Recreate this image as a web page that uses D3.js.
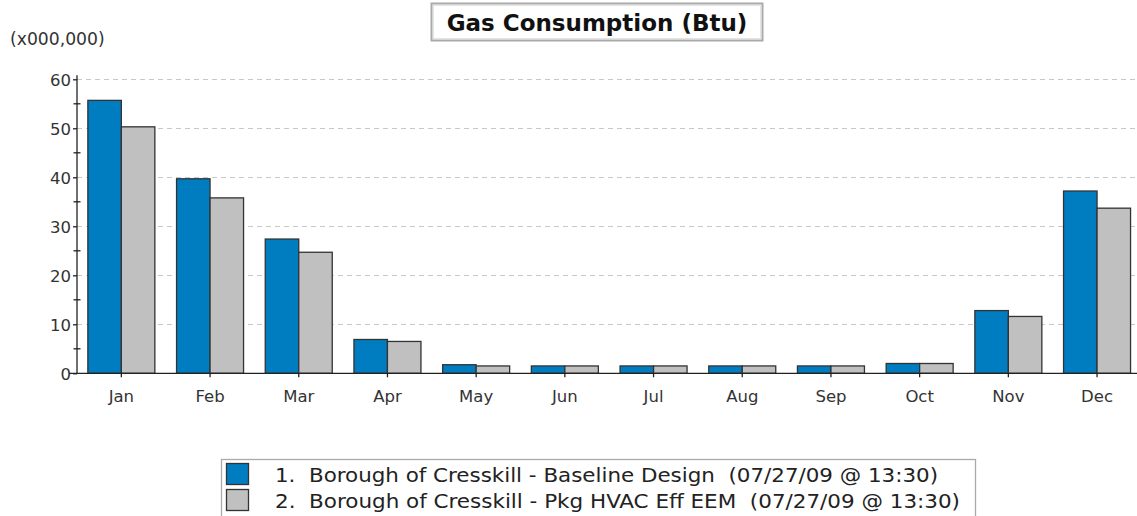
<!DOCTYPE html>
<html><head><meta charset="utf-8">
<script src="https://cdn.jsdelivr.net/npm/d3@7"></script>
<style>body{margin:0;background:#fff;overflow:hidden}svg{display:block}</style>
</head><body>
<svg id="c" width="1137" height="516"></svg>
<script>
const months = ["Jan","Feb","Mar","Apr","May","Jun","Jul","Aug","Sep","Oct","Nov","Dec"];
const baseline = [55.7,39.7,27.4,6.9,1.75,1.5,1.5,1.5,1.5,2.0,12.8,37.2];
const pkgHvac = [50.3,35.8,24.7,6.5,1.5,1.5,1.5,1.5,1.5,2.0,11.6,33.7];
const seriesNames = ["1.  Borough of Cresskill - Baseline Design  (07/27/09 @ 13:30)",
                     "2.  Borough of Cresskill - Pkg HVAC Eff EEM  (07/27/09 @ 13:30)"];
const seriesColors = ["#007dc0","#c0c0c0"];
const yTicks = [0,10,20,30,40,50,60];
const titleText = "Gas Consumption (Btu)";
const unitText = "(x000,000)";

const svg = d3.select("#c");
const font = "Verdana, 'DejaVu Sans', sans-serif";
const x0 = 77, x1 = 77 + 12*88.7, yTop = 79.3, yBot = 373.3;
const x = d3.scaleBand().domain(months).range([x0, x1]).paddingInner(0).paddingOuter(0);
const y = d3.scaleLinear().domain([0,60]).range([yBot, yTop]);
const inner = d3.scaleBand().domain([0,1]).range([x.bandwidth()/2-33.5, x.bandwidth()/2+33.5]);

// gridlines
svg.append("g").selectAll("line").data(yTicks.filter(d=>d>0)).join("line")
  .attr("x1", x0).attr("x2", 1137).attr("y1", d=>Math.round(y(d))+0.5).attr("y2", d=>Math.round(y(d))+0.5)
  .attr("stroke","#c8c8c8").attr("stroke-dasharray","5,4").attr("stroke-width",1);

// bars
const data = [baseline, pkgHvac];
const g = svg.append("g");
months.forEach((m,i)=>{
  data.forEach((s,k)=>{
    g.append("rect")
      .attr("x", x(m)+inner(k)).attr("width", inner.bandwidth())
      .attr("y", y(s[i])).attr("height", yBot - y(s[i]))
      .attr("fill", seriesColors[k]).attr("stroke","#333").attr("stroke-width",1.3);
  });
});

// y axis
const ya = svg.append("g").attr("transform",`translate(${x0},0)`)
  .call(d3.axisLeft(y).tickValues(yTicks).tickSize(4).tickPadding(2));
ya.select(".domain").attr("stroke","#222").attr("stroke-width",1.3).attr("d",`M0,${yTop-4}V${yBot}`);
ya.selectAll(".tick line").attr("stroke","#222").attr("stroke-width",1.3);
ya.selectAll("text").attr("font-family",font).attr("font-size",16.5).attr("fill","#333").attr("dy","0.36em");
// minor ticks
svg.append("g").selectAll("line").data(d3.range(5,60,10)).join("line")
  .attr("x1", x0-3.5).attr("x2", x0+3.5).attr("y1", d=>y(d)).attr("y2", d=>y(d))
  .attr("stroke","#222").attr("stroke-width",1.3);

// x axis
const xa = svg.append("g").attr("transform",`translate(0,${yBot})`)
  .call(d3.axisBottom(x).tickSize(4).tickPadding(13));
xa.select(".domain").attr("stroke","#222").attr("stroke-width",1.3).attr("d",`M${x0-8},0H1137`);
xa.selectAll(".tick line").attr("stroke","#222").attr("stroke-width",1.3);
xa.selectAll("text").attr("font-family",font).attr("font-size",16.5).attr("fill","#333");

// unit label
svg.append("text").attr("x",10).attr("y",45).text(unitText)
  .attr("font-family",font).attr("font-size",17.2).attr("fill","#333");

// title
svg.append("rect").attr("x",431.5).attr("y",3.5).attr("width",331).attr("height",37)
  .attr("fill","#fff").attr("stroke","#aaa").attr("stroke-width",2);
svg.append("rect").attr("x",433.5).attr("y",5.5).attr("width",327).attr("height",33)
  .attr("fill","none").attr("stroke","#e4e4e4").attr("stroke-width",1);
svg.append("text").attr("x",597).attr("y",30.5).attr("text-anchor","middle").text(titleText)
  .attr("font-family",font).attr("font-weight","bold").attr("font-size",23).attr("fill","#111");

// legend
svg.append("rect").attr("x",221.5).attr("y",459.5).attr("width",754).attr("height",60)
  .attr("fill","#fff").attr("stroke","#aaa").attr("stroke-width",1.3);
const legendWidths = [663, 685];
const lg = svg.append("g").selectAll("g").data(seriesNames).join("g")
  .attr("transform",(d,i)=>`translate(0,${i*26})`);
lg.append("rect").attr("x",226.5).attr("y",463.5).attr("width",22).attr("height",21)
  .attr("fill",(d,i)=>seriesColors[i]).attr("stroke","#333").attr("stroke-width",1.3);
lg.append("text").attr("x",275).attr("y",482).attr("xml:space","preserve")
  .style("white-space","pre").text(d=>d)
  .attr("textLength",(d,i)=>legendWidths[i]).attr("lengthAdjust","spacingAndGlyphs")
  .attr("font-family","Tahoma, 'DejaVu Sans Condensed', 'Liberation Sans', sans-serif").attr("font-size",20).attr("fill","#222");
</script>
</body></html>
